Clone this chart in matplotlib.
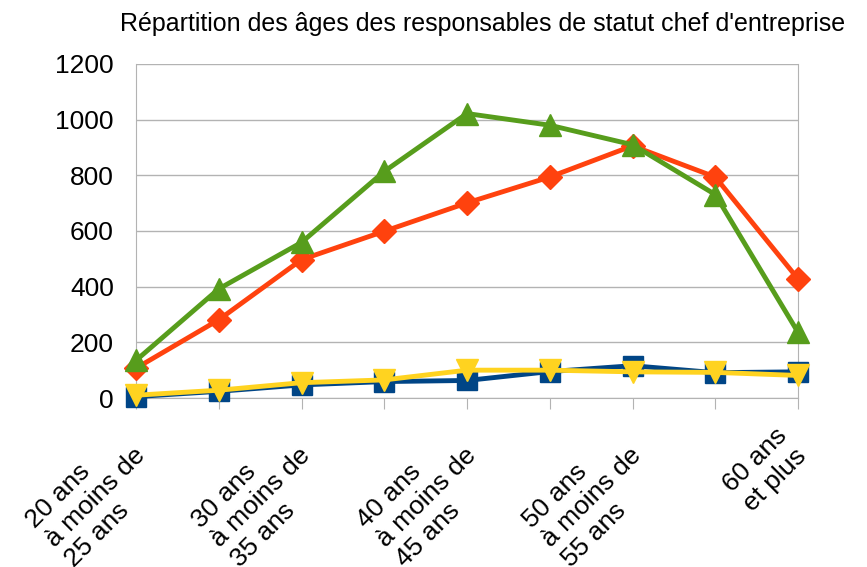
import matplotlib
matplotlib.use("Agg")
import matplotlib.pyplot as plt
from matplotlib.transforms import ScaledTranslation

plt.rcParams["font.family"] = ["Liberation Sans", "DejaVu Sans"]

categories = [
    "20 ans\nà moins de\n25 ans", "", "30 ans\nà moins de\n35 ans", "",
    "40 ans\nà moins de\n45 ans", "", "50 ans\nà moins de\n55 ans", "",
    "60 ans\net plus",
]
serie_bleue = [5, 24, 47, 59, 63, 95, 116, 91, 94]
serie_orange = [107, 281, 497, 599, 701, 794, 906, 794, 428]
serie_verte = [135, 392, 559, 814, 1022, 980, 910, 731, 236]
serie_jaune = [10, 28, 55, 65, 100, 100, 94, 92, 81]
yticks = [0, 200, 400, 600, 800, 1000, 1200]

fig = plt.figure(figsize=(8.67, 5.67), dpi=100)
ax = fig.add_axes([136 / 867, 1 - 398 / 567, (798 - 136) / 867, (398 - 64) / 567])

x = list(range(len(categories)))
style = dict(lw=3.5, clip_on=False)
ax.plot(x, serie_bleue, color="#004586", marker="s", ms=14, zorder=3, **style)
ax.plot(x, serie_orange, color="#ff420e", marker="D", ms=12, zorder=4, **style)
ax.plot(x, serie_verte, color="#579d1c", marker="^", ms=16, zorder=5, **style)
ax.plot(x, serie_jaune, color="#ffd320", marker="v", ms=16, zorder=6, **style)

ax.set_xlim(0, len(categories) - 1)
ax.set_ylim(0, 1200)
ax.set_yticks(yticks)
ax.set_yticklabels([str(v) for v in yticks], fontsize=19)
ax.set_xticks(x)
ax.set_xticklabels(categories, fontsize=19, rotation=45, ha="right", va="top",
                   rotation_mode="anchor", multialignment="left", linespacing=1.2)
ax.tick_params(axis="x", length=8, color="#b3b3b3", pad=10.5)
ax.tick_params(axis="y", length=0, pad=16)

# décalage des étiquettes vers la gauche, comme dans l'original
shift = ScaledTranslation(-23 / 100, 0, fig.dpi_scale_trans)
for lab in ax.get_xticklabels():
    lab.set_transform(lab.get_transform() + shift)

ax.grid(axis="y", color="#b3b3b3", lw=1)
ax.set_axisbelow(True)
for s in ax.spines.values():
    s.set_color("#b3b3b3")
ax.spines["top"].set_visible(False)

fig.text(483 / 867, 1 - 24 / 567, "Répartition des âges des responsables de statut chef d'entreprise",
         ha="center", va="center", fontsize=18)

fig.savefig("out.png", dpi=100)
